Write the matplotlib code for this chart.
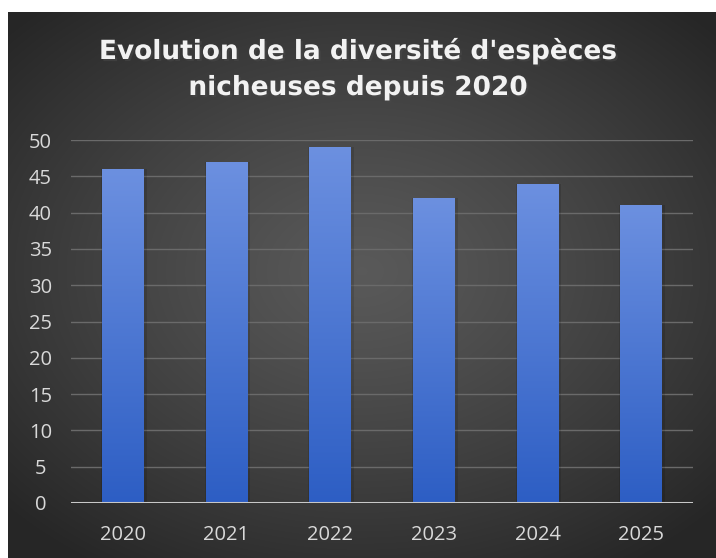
import matplotlib

matplotlib.use("Agg")
import matplotlib.pyplot as plt
import matplotlib.patheffects as pe
import numpy as np

years = ["2020", "2021", "2022", "2023", "2024", "2025"]
species = [46, 47, 49, 42, 44, 41]
y_ticks = [0, 5, 10, 15, 20, 25, 30, 35, 40, 45, 50]
title_lines = ["Evolution de la diversité d'espèces", "nicheuses depuis 2020"]

W, H = 716, 558
fig = plt.figure(figsize=(W / 100, H / 100), dpi=100, facecolor="white")

# dark panel with radial gradient (lighter centre)
bg = fig.add_axes([8 / W, 0, 1 - 8 / W, 1 - 12 / H])
bg.set_axis_off()
yy, xx = np.mgrid[-1:1:300j, -1:1:380j]
r = np.sqrt((xx * 0.95) ** 2 + ((yy + 0.05) * 1.0) ** 2)
r = np.clip(r / 1.3, 0, 1)
shade = 0.35 - 0.2 * r ** 1.2
bg.imshow(np.dstack([shade] * 3), aspect="auto", extent=[0, 1, 0, 1],
          interpolation="bicubic")
bg.set_xlim(0, 1)
bg.set_ylim(0, 1)

ax = fig.add_axes([71 / W, 1 - 503 / H, (693 - 71) / W, (503 - 140) / H])
ax.patch.set_alpha(0)

x = np.arange(len(years))
bars = ax.bar(x, species, width=0.40, color="#4a76d0", zorder=3)

# vertical gradient inside each bar
grad = np.linspace(0, 1, 256).reshape(-1, 1)
top = np.array([0x6c, 0x90, 0xe0]) / 255
bottom = np.array([0x2d, 0x5e, 0xc4]) / 255
img = bottom + (top - bottom) * grad[:, :, None]
for b in bars:
    bx, bw, bh = b.get_x(), b.get_width(), b.get_height()
    # faint shadow
    ax.bar(bx + bw / 2 + 0.01, bh + 0.2, width=bw + 0.04, bottom=-0.2,
           color="black", alpha=0.12, zorder=2)
    im = ax.imshow(img, extent=[bx, bx + bw, 0, bh], origin="lower",
                   aspect="auto", zorder=4)
    im.set_clip_path(b)

ax.set_xlim(-0.5, len(years) - 0.5)
ax.set_ylim(0, 50)
ax.set_yticks(y_ticks)
ax.set_xticks(x)
ax.set_xticklabels(years)
ax.grid(axis="y", color="#6a6a6a", linewidth=1, zorder=1)
ax.axhline(0, color="#c8c8c8", linewidth=2.2, zorder=5)
for s in ax.spines.values():
    s.set_visible(False)
ax.tick_params(length=0, colors="#d9d9d9", labelsize=14.5)
ax.tick_params(axis="x", pad=16)
ax.tick_params(axis="y", pad=22)
for lab in ax.get_yticklabels():
    lab.set_horizontalalignment("center")
for lab in ax.get_xticklabels() + ax.get_yticklabels():
    lab.set_fontfamily(["Open Sans", "DejaVu Sans"])

# title, two centred lines with a soft drop shadow
shadow = [pe.withSimplePatchShadow(offset=(1.5, -1.5), alpha=0.55)]
for i, line in enumerate(title_lines):
    fig.text(0.5, 1 - (51 + 37 * i) / H, line, ha="center", va="center",
             color="#f2f2f2", fontsize=19, fontweight="bold",
             family=["DejaVu Sans"], path_effects=shadow)

plt.savefig("out.png", dpi=100, facecolor="white")
plt.close()
